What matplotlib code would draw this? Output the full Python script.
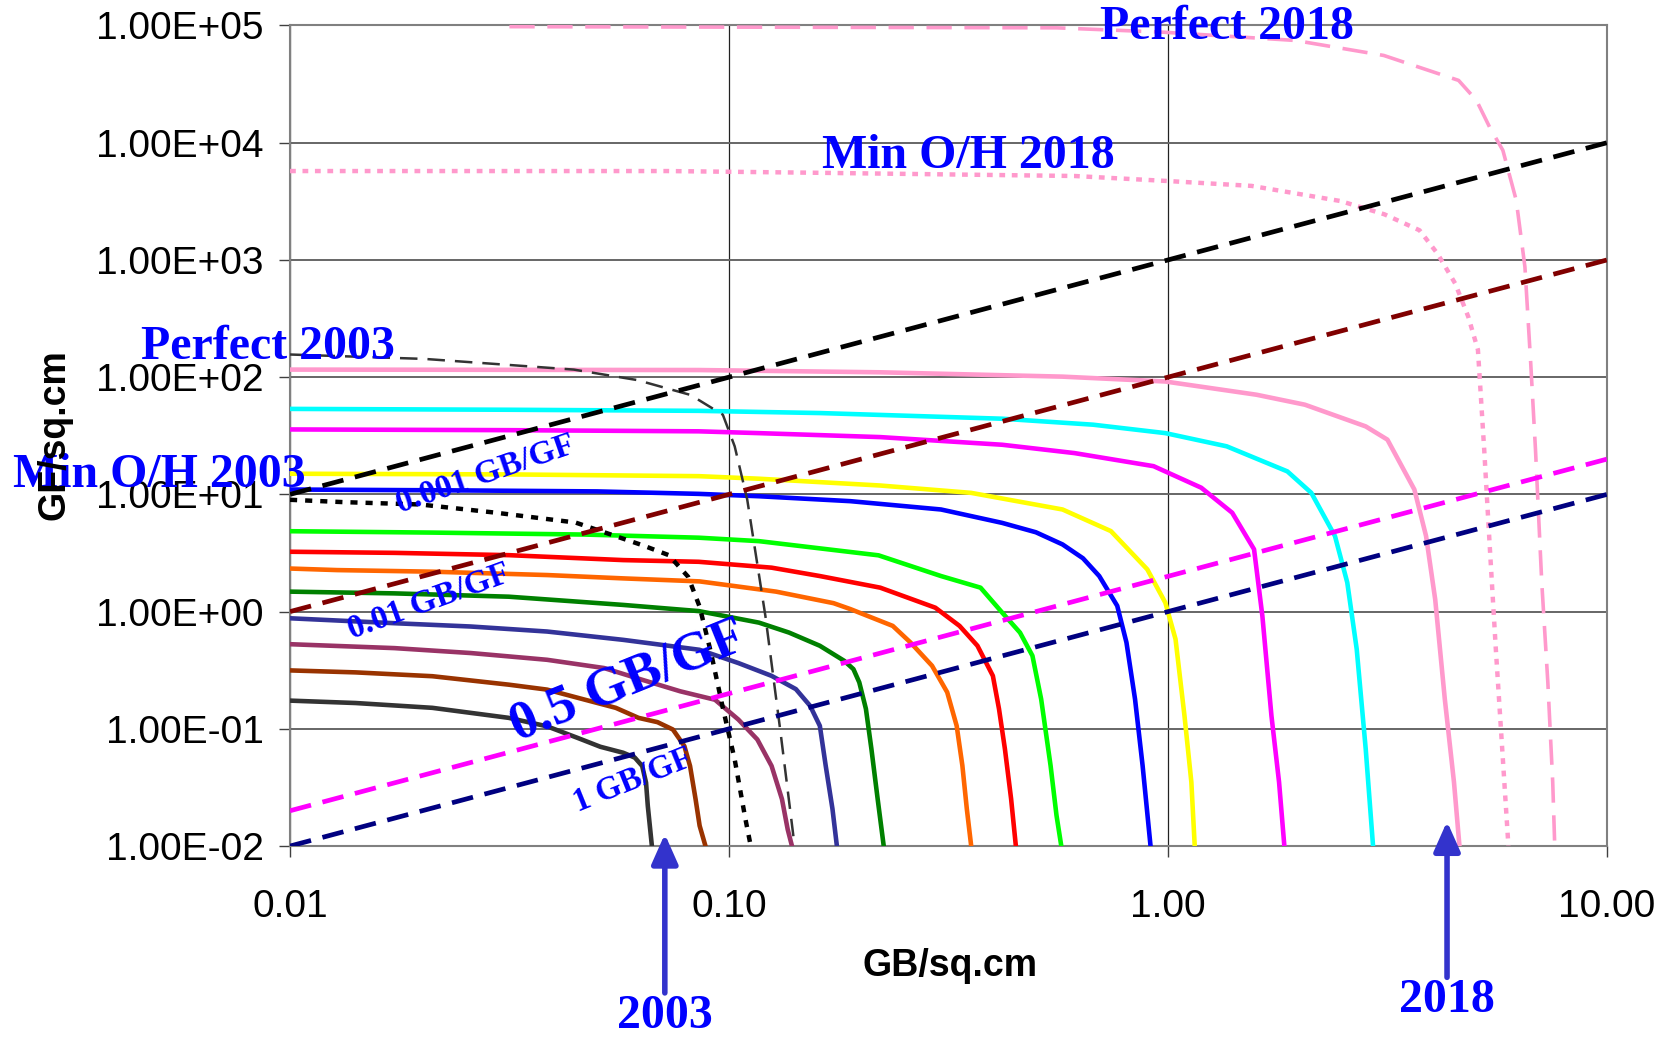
import matplotlib
matplotlib.use("Agg")
import matplotlib.pyplot as plt
from matplotlib.ticker import FixedLocator, FixedFormatter

# iso-cost curves, GB/sq.cm (x) vs GF/sq.cm (y)
gray_x = [0.01, 0.0141, 0.0211, 0.0315, 0.0385, 0.0451, 0.0509, 0.0574, 0.0610, 0.0634, 0.0647, 0.0653, 0.0667]
gray_y = [0.174, 0.166, 0.151, 0.124, 0.105, 0.0839, 0.0703, 0.0625, 0.0568, 0.0482, 0.0348, 0.0220, 0.0101]

brown_x = [0.01, 0.0141, 0.0211, 0.0315, 0.0385, 0.0470, 0.0552, 0.0622, 0.0687, 0.0745, 0.0791, 0.0815, 0.0839, 0.0857, 0.0883]
brown_y = [0.315, 0.303, 0.281, 0.238, 0.216, 0.177, 0.151, 0.124, 0.114, 0.0986, 0.0713, 0.0482, 0.0251, 0.0149, 0.0101]

plum_x = [0.01, 0.0173, 0.0258, 0.0385, 0.0519, 0.0634, 0.0774, 0.0929, 0.105, 0.116, 0.125, 0.132, 0.136, 0.139]
plum_y = [0.527, 0.488, 0.443, 0.388, 0.330, 0.262, 0.209, 0.177, 0.120, 0.0811, 0.0482, 0.0251, 0.0139, 0.0101]

slate_x = [0.01, 0.0173, 0.0258, 0.0385, 0.0574, 0.0857, 0.105, 0.125, 0.142, 0.153, 0.161, 0.166, 0.172, 0.176]
slate_y = [0.877, 0.796, 0.746, 0.676, 0.574, 0.472, 0.364, 0.283, 0.218, 0.157, 0.106, 0.0486, 0.0208, 0.0101]

dgreen_x = [0.01, 0.0173, 0.0315, 0.0574, 0.0853, 0.117, 0.137, 0.161, 0.183, 0.192, 0.198, 0.205, 0.211, 0.218, 0.225]
dgreen_y = [1.48, 1.43, 1.34, 1.14, 1.01, 0.805, 0.662, 0.511, 0.380, 0.323, 0.249, 0.148, 0.0673, 0.0253, 0.0101]

orange_x = [0.01, 0.0128, 0.0211, 0.0385, 0.0574, 0.0857, 0.128, 0.173, 0.189, 0.236, 0.259, 0.290, 0.314, 0.330, 0.340, 0.348, 0.356]
orange_y = [2.33, 2.26, 2.19, 2.05, 1.92, 1.81, 1.48, 1.18, 1.05, 0.755, 0.545, 0.345, 0.205, 0.106, 0.0486, 0.0208, 0.0101]

red_x = [0.01, 0.0173, 0.0315, 0.0574, 0.0853, 0.125, 0.161, 0.221, 0.295, 0.335, 0.368, 0.399, 0.412, 0.425, 0.439, 0.450]
red_y = [3.24, 3.17, 3.03, 2.75, 2.66, 2.37, 2.01, 1.60, 1.08, 0.755, 0.511, 0.283, 0.148, 0.0673, 0.0253, 0.0101]

lime_x = [0.01, 0.0211, 0.0470, 0.0853, 0.117, 0.219, 0.304, 0.374, 0.419, 0.460, 0.491, 0.514, 0.540, 0.557, 0.571]
lime_y = [4.85, 4.72, 4.54, 4.27, 3.99, 3.02, 2.01, 1.60, 0.98, 0.662, 0.420, 0.179, 0.0486, 0.0183, 0.0101]

blue_x = [0.01, 0.0251, 0.0501, 0.0853, 0.117, 0.189, 0.304, 0.419, 0.500, 0.575, 0.640, 0.697, 0.766, 0.804, 0.841, 0.875, 0.912]
blue_y = [11.0, 10.8, 10.6, 10.1, 9.64, 8.75, 7.43, 5.71, 4.75, 3.74, 2.85, 2.01, 1.12, 0.545, 0.179, 0.0486, 0.0101]

yellow_x = [0.01, 0.0316, 0.0853, 0.117, 0.221, 0.356, 0.575, 0.741, 0.897, 0.986, 1.04, 1.09, 1.13, 1.15]
yellow_y = [15.0, 14.8, 14.3, 13.6, 11.9, 10.3, 7.43, 4.86, 2.29, 1.19, 0.582, 0.129, 0.0351, 0.0101]

magenta_x = [0.01, 0.0316, 0.0853, 0.117, 0.221, 0.419, 0.612, 0.927, 1.19, 1.40, 1.57, 1.64, 1.72, 1.79, 1.84]
magenta_y = [35.8, 35.3, 34.5, 33.3, 30.8, 26.5, 22.5, 17.4, 11.4, 6.97, 3.40, 0.918, 0.129, 0.0351, 0.0101]

cyan_x = [0.01, 0.0316, 0.0853, 0.161, 0.419, 0.675, 0.986, 1.36, 1.87, 2.12, 2.40, 2.56, 2.69, 2.82, 2.93]
cyan_y = [53.6, 52.7, 51.6, 49.4, 44.2, 39.3, 33.3, 25.7, 15.7, 10.3, 4.41, 1.77, 0.478, 0.0673, 0.0101]

pink_x = [0.01, 0.0853, 0.221, 0.575, 0.986, 1.59, 2.05, 2.82, 3.16, 3.64, 3.87, 4.06, 4.27, 4.48, 4.61]
pink_y = [116, 115, 110, 101, 91.8, 70.8, 58.2, 38.0, 29.3, 11.0, 4.41, 1.27, 0.179, 0.0351, 0.0101]

# bounding curves
perf03_x = [0.01, 0.0203, 0.0443, 0.0618, 0.0817, 0.0968, 0.103, 0.110, 0.121, 0.131, 0.141]
perf03_y = [156, 143, 116, 94.4, 70.5, 47.8, 25.7, 9.04, 0.918, 0.0933, 0.0101]

minoh03_x = [0.01, 0.0132, 0.0198, 0.0295, 0.0447, 0.0634, 0.0729, 0.0807, 0.0857, 0.0910, 0.0966, 0.103, 0.109, 0.112]
minoh03_y = [8.99, 8.59, 8.20, 6.97, 5.75, 3.69, 3.03, 1.98, 1.10, 0.443, 0.156, 0.0548, 0.0169, 0.0101]

minoh18_x = [0.01, 0.0726, 0.152, 0.612, 1.0, 1.55, 2.47, 3.11, 3.74, 4.11, 4.51, 4.83, 5.08, 5.25, 5.41, 5.58, 5.77, 5.96]
minoh18_y = [5730, 5730, 5550, 5200, 4710, 4280, 3180, 2450, 1790, 1130, 628, 327, 171, 24.1, 3.39, 0.478, 0.0673, 0.0101]

perf18_x = [0.0316, 0.558, 0.973, 1.95, 3.10, 4.59, 5.04, 5.40, 5.79, 6.21, 6.50, 6.70, 6.87, 7.10, 7.33, 7.52, 7.60]
perf18_y = [97700, 95500, 87700, 74500, 55500, 34000, 23000, 13600, 8610, 3230, 871, 132, 24.1, 1.77, 0.249, 0.0351, 0.0101]

# constant GB/GF ratio lines: GF = k * GB
ratio_x = [0.01, 10.0]
ratio_k = [1000, 100, 2, 1]
ratio_text = ["0.001 GB/GF", "0.01 GB/GF", "0.5 GB/GF", "1 GB/GF"]

y_ticks = [1e-2, 1e-1, 1e0, 1e1, 1e2, 1e3, 1e4, 1e5]
y_labels = ["1.00E-02", "1.00E-01", "1.00E+00", "1.00E+01", "1.00E+02", "1.00E+03", "1.00E+04", "1.00E+05"]
x_ticks = [0.01, 0.1, 1.0, 10.0]
x_labels = ["0.01", "0.10", "1.00", "10.00"]

year_x = [0.0714, 4.32]
year_text = ["2003", "2018"]

fig = plt.figure(figsize=(16.65, 10.4), dpi=100)
ax = fig.add_axes([0.1742, 0.1865, 0.7910, 0.7890])
ax.set_xscale("log")
ax.set_yscale("log")
ax.set_xlim(0.01, 10)
ax.set_ylim(0.01, 1e5)

lw = 3.3
curves = [
    (gray_x, gray_y, "#333333"),
    (brown_x, brown_y, "#993300"),
    (plum_x, plum_y, "#993366"),
    (slate_x, slate_y, "#333399"),
    (dgreen_x, dgreen_y, "#008000"),
    (orange_x, orange_y, "#FF6600"),
    (red_x, red_y, "#FF0000"),
    (lime_x, lime_y, "#00FF00"),
    (blue_x, blue_y, "#0000FF"),
    (yellow_x, yellow_y, "#FFFF00"),
    (magenta_x, magenta_y, "#FF00FF"),
    (cyan_x, cyan_y, "#00FFFF"),
    (pink_x, pink_y, "#FF99CC"),
]
for cx, cy, col in curves:
    ax.plot(cx, cy, color=col, lw=lw, zorder=3, solid_joinstyle="round")

ax.plot(perf03_x, perf03_y, color="#333333", lw=1.8, dashes=(7, 4), zorder=3)
ax.plot(minoh03_x, minoh03_y, color="#000000", lw=3.2, dashes=(1.6, 1.8), zorder=3)
ax.plot(minoh18_x, minoh18_y, color="#FF99CC", lw=3.2, dashes=(1.3, 1.5), zorder=3)
ax.plot(perf18_x, perf18_y, color="#FF99CC", lw=2.6, dashes=(7, 3.5), zorder=3)

ratio_colors = ["#000000", "#800000", "#FF00FF", "#000080"]
for k, col in zip(ratio_k, ratio_colors):
    ax.plot(ratio_x, [k * v for v in ratio_x], color=col, lw=3.4, dashes=(4.6, 2.5), zorder=4)

# grid and frame
ax.minorticks_off()
ax.yaxis.grid(True, color="#666666", lw=1.4, zorder=1)
ax.xaxis.grid(True, color="#222222", lw=0.9, zorder=1)
for s in ax.spines.values():
    s.set_color("#808080")
    s.set_linewidth(1.5)
ax.yaxis.set_major_locator(FixedLocator(y_ticks))
ax.yaxis.set_major_formatter(FixedFormatter(y_labels))
ax.xaxis.set_major_locator(FixedLocator(x_ticks))
ax.xaxis.set_major_formatter(FixedFormatter(x_labels))
ax.tick_params(axis="y", length=8, width=1, color="#404040", pad=11, labelsize=28)
ax.tick_params(axis="x", length=8, width=1, color="#404040", pad=23, labelsize=28)
for lab in ax.get_xticklabels() + ax.get_yticklabels():
    lab.set_family("Liberation Sans")

fig.text(0.5706, 0.0712, "GB/sq.cm", ha="center", va="center",
         fontsize=27, fontweight="bold", family="Liberation Sans")
fig.text(0.033, 0.582, "GF/sq.cm", ha="center", va="center", rotation=90,
         fontsize=27, fontweight="bold", family="Liberation Sans")

# blue annotations
tfont = dict(color="#0000FF", fontweight="bold", family="Liberation Serif",
             ha="center", va="center", zorder=6, clip_on=False)
ax.text(1.36, 97000, "Perfect 2018", fontsize=34.5, **tfont)
ax.text(0.351, 7690, "Min O/H 2018", fontsize=34.5, **tfont)
ax.text(0.00889, 181, "Perfect 2003", fontsize=34.5, **tfont)
ax.text(0.00504, 14.7, "Min O/H 2003", fontsize=34.5, **tfont)

ax.text(0.0279, 14.7, ratio_text[0], fontsize=24, rotation=19, **tfont)
ax.text(0.0207, 1.2, ratio_text[1], fontsize=24, rotation=20, **tfont)
ax.text(0.059, 0.247, ratio_text[2], fontsize=39, rotation=22, **tfont)
ax.text(0.0604, 0.0361, ratio_text[3], fontsize=23.5, rotation=22, **tfont)

# year arrows below the axis
xt = ax.get_xaxis_transform()
tips = [0.0146, 0.030]
tails = [-0.179, -0.160]
text_y = [-0.207, -0.188]
for xv, tip, tail, ty, lab in zip(year_x, tips, tails, text_y, year_text):
    ax.annotate("", xy=(xv, tip), xycoords=xt, xytext=(xv, tail), textcoords=xt,
                arrowprops=dict(arrowstyle="-|>,head_width=0.4,head_length=0.9",
                                lw=4, color="#3333CC", mutation_scale=20,
                                shrinkA=0, shrinkB=0),
                annotation_clip=False, zorder=6)
    ax.text(xv, ty, lab, transform=xt, fontsize=34.5, **tfont)

fig.savefig("out.png", dpi=100)
